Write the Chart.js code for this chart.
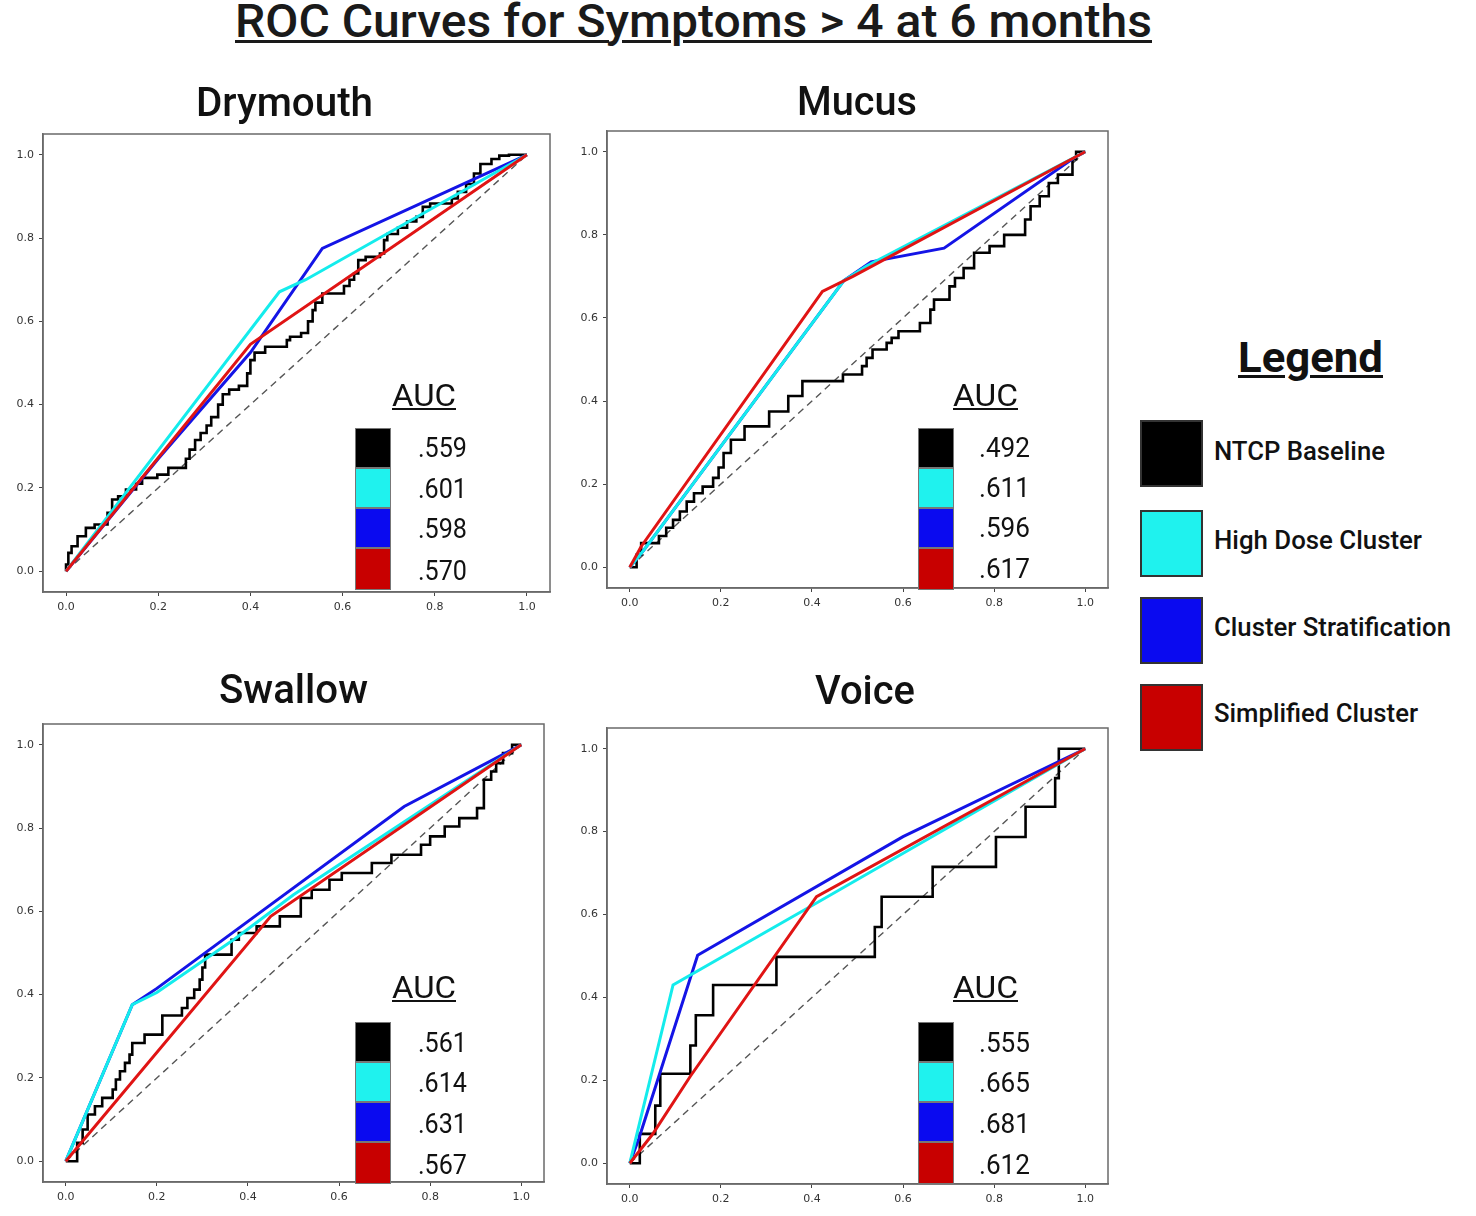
<!DOCTYPE html>
<html><head><meta charset="utf-8">
<script src="https://cdn.jsdelivr.net/npm/chart.js@4.4.1/dist/chart.umd.min.js"></script>
<style>
html,body{margin:0;padding:0;background:#fff;}
body{width:1476px;height:1216px;position:relative;overflow:hidden;font-family:Roboto,"Noto Sans",sans-serif;color:#111;}
.t{position:absolute;white-space:nowrap;display:inline-block;transform-origin:0 50%;line-height:1;}
.u{text-decoration:underline;}
.panel{position:absolute;}
.sw{position:absolute;box-sizing:border-box;}
</style></head><body>
<script>
// ---------------- DATA ----------------
const tickValues = [0, 0.2, 0.4, 0.6, 0.8, 1.0];
const tickLabels = ['0.0', '0.2', '0.4', '0.6', '0.8', '1.0'];
const mainTitle = 'ROC Curves for Symptoms > 4 at 6 months';
const legendTitle = 'Legend';
const aucTitle = 'AUC';
const seriesNames = ['NTCP Baseline', 'High Dose Cluster', 'Cluster Stratification', 'Simplified Cluster'];
const panelTitles = ['Drymouth', 'Mucus', 'Swallow', 'Voice'];
const chanceLine = [[0, 0], [1, 1]];

// Drymouth (NTCP is a staircase: each point = end of a horizontal run)
const drymouthNTCP = [[0,0],[0.005,0.016],[0.012,0.044],[0.025,0.06],[0.043,0.084],[0.062,0.104],[0.09,0.112],[0.1,0.14],[0.113,0.172],[0.13,0.18],[0.152,0.196],[0.165,0.21],[0.198,0.224],[0.222,0.232],[0.26,0.248],[0.268,0.27],[0.28,0.292],[0.292,0.315],[0.305,0.332],[0.315,0.35],[0.33,0.37],[0.34,0.4],[0.354,0.425],[0.375,0.436],[0.393,0.445],[0.4,0.475],[0.409,0.507],[0.432,0.525],[0.479,0.539],[0.486,0.555],[0.51,0.563],[0.525,0.572],[0.535,0.6],[0.541,0.627],[0.556,0.645],[0.603,0.667],[0.615,0.685],[0.625,0.7],[0.634,0.715],[0.65,0.747],[0.681,0.755],[0.69,0.763],[0.697,0.795],[0.72,0.81],[0.74,0.825],[0.76,0.84],[0.774,0.851],[0.79,0.875],[0.837,0.883],[0.85,0.895],[0.868,0.911],[0.885,0.93],[0.899,0.955],[0.923,0.978],[0.94,0.99],[0.961,0.998],[1,1]];
const drymouthHighDose = [[0,0],[0.463,0.671],[0.52,0.70],[1,1]];
const drymouthClusterStrat = [[0,0],[0.2,0.27],[0.4,0.525],[0.556,0.775],[1,1]];
const drymouthSimplified = [[0,0],[0.40,0.545],[1,1]];
const drymouthAUC = ['.559', '.601', '.598', '.570'];

// Mucus
const mucusNTCP = [[0,0],[0.015,0],[0.025,0.03],[0.064,0.058],[0.08,0.075],[0.095,0.095],[0.11,0.114],[0.125,0.134],[0.141,0.158],[0.16,0.178],[0.183,0.194],[0.195,0.215],[0.206,0.24],[0.222,0.275],[0.235,0.307],[0.252,0.307],[0.306,0.339],[0.348,0.375],[0.379,0.412],[0.468,0.448],[0.51,0.464],[0.52,0.484],[0.533,0.504],[0.564,0.524],[0.575,0.54],[0.59,0.552],[0.637,0.568],[0.66,0.588],[0.668,0.62],[0.702,0.644],[0.714,0.676],[0.733,0.696],[0.756,0.72],[0.79,0.757],[0.822,0.773],[0.868,0.8],[0.88,0.837],[0.9,0.869],[0.92,0.893],[0.94,0.925],[0.972,0.945],[0.98,0.982],[1,1]];
const mucusHighDose = [[0,0],[0.03,0.04],[0.47,0.69],[0.52,0.725],[1,1]];
const mucusClusterStrat = [[0,0],[0.03,0.04],[0.47,0.69],[0.53,0.735],[0.69,0.768],[0.975,0.985],[1,1]];
const mucusSimplified = [[0,0],[0.025,0.05],[0.423,0.664],[0.49,0.70],[1,1]];
const mucusAUC = ['.492', '.611', '.596', '.617'];

// Swallow
const swallowNTCP = [[0,0],[0.025,0],[0.037,0.044],[0.048,0.076],[0.064,0.112],[0.08,0.132],[0.103,0.152],[0.11,0.172],[0.119,0.196],[0.13,0.216],[0.14,0.236],[0.146,0.256],[0.173,0.284],[0.212,0.304],[0.255,0.35],[0.267,0.368],[0.282,0.392],[0.294,0.412],[0.3,0.436],[0.306,0.465],[0.364,0.496],[0.38,0.532],[0.419,0.548],[0.47,0.564],[0.516,0.588],[0.54,0.632],[0.579,0.652],[0.606,0.676],[0.672,0.692],[0.715,0.716],[0.78,0.736],[0.8,0.76],[0.832,0.78],[0.864,0.804],[0.903,0.824],[0.918,0.848],[0.934,0.916],[0.945,0.936],[0.96,0.956],[0.98,0.98],[1,1]];
const swallowHighDose = [[0,0],[0.146,0.376],[0.2,0.405],[0.37,0.533],[0.5,0.64],[1,1]];
const swallowClusterStrat = [[0,0],[0.146,0.376],[0.2,0.415],[0.743,0.852],[1,1]];
const swallowSimplified = [[0,0],[0.45,0.588],[1,1]];
const swallowAUC = ['.561', '.614', '.631', '.567'];

// Voice
const voiceNTCP = [[0,0],[0.022,0],[0.056,0.071],[0.067,0.139],[0.133,0.216],[0.145,0.284],[0.183,0.357],[0.322,0.43],[0.538,0.498],[0.553,0.57],[0.665,0.643],[0.804,0.715],[0.869,0.787],[0.934,0.86],[0.942,0.929],[1,1]];
const voiceHighDose = [[0,0],[0.095,0.43],[0.41,0.628],[1,1]];
const voiceClusterStrat = [[0,0],[0.02,0.06],[0.149,0.502],[0.6,0.788],[1,1]];
const voiceSimplified = [[0,0],[0.05,0.07],[0.133,0.21],[0.41,0.643],[1,1]];
const voiceAUC = ['.555', '.665', '.681', '.612'];

// ---------------- STYLE / LAYOUT ----------------
const lineColors = ['#000000', '#14ecec', '#1414e6', '#e01414'];
const swatchColors = ['#000000', '#1ff2ee', '#0a0af0', '#c80000'];
// drawing order: red on top, then cyan, then blue, then black (higher = further back)
const drawOrder = [4, 2, 3, 1];
const PAD_TOP = 16;

const panels = [
  { title: panelTitles[0], series: [drymouthNTCP, drymouthHighDose, drymouthClusterStrat, drymouthSimplified], auc: drymouthAUC,
    box: [43, 134, 550, 592], titleBox: [196, 103, 177], aucX: 355, aucTop: 428, aucHead: [392, 395, 64], valX: [418, 49], valY: [448, 489, 529, 571] },
  { title: panelTitles[1], series: [mucusNTCP, mucusHighDose, mucusClusterStrat, mucusSimplified], auc: mucusAUC,
    box: [607, 131, 1108, 588], titleBox: [797, 102, 120], aucX: 918, aucTop: 428, aucHead: [953, 395, 65], valX: [979, 51], valY: [448, 488, 528, 569] },
  { title: panelTitles[2], series: [swallowNTCP, swallowHighDose, swallowClusterStrat, swallowSimplified], auc: swallowAUC,
    box: [43, 724, 544, 1182], titleBox: [219, 690, 149], aucX: 355, aucTop: 1022, aucHead: [392, 987, 64], valX: [418, 49], valY: [1043, 1083, 1124, 1165] },
  { title: panelTitles[3], series: [voiceNTCP, voiceHighDose, voiceClusterStrat, voiceSimplified], auc: voiceAUC,
    box: [607, 728, 1108, 1184], titleBox: [815, 691, 100], aucX: 918, aucTop: 1022, aucHead: [953, 987, 65], valX: [979, 51], valY: [1043, 1083, 1124, 1165] }
];

const fitList = [];
function addText(txt, left, cy, width, size, weight, underline, extra) {
  const el = document.createElement('div');
  el.className = 't' + (underline ? ' u' : '');
  el.textContent = txt;
  el.style.left = left + 'px';
  el.style.top = (cy - size / 2) + 'px';
  el.style.fontSize = size + 'px';
  el.style.fontWeight = weight;
  if (extra) Object.assign(el.style, extra);
  document.body.appendChild(el);
  fitList.push([el, width]);
  return el;
}
function addBox(l, t, w, h, color, border) {
  const d = document.createElement('div');
  d.className = 'sw';
  Object.assign(d.style, { left: l + 'px', top: t + 'px', width: w + 'px', height: h + 'px', background: color, border: border });
  document.body.appendChild(d);
}

// main title & legend
addText(mainTitle, 235, 20, 917, 47, 500, true, { color: '#1a1a1a', textDecorationThickness: '3px', textUnderlineOffset: '3px' });
addText(legendTitle, 1238, 358, 145, 42, 700, true, { color: '#111', textDecorationThickness: '3px', textUnderlineOffset: '3px' });
const legendTops = [420, 510, 597, 684];
const legendCenters = [451, 540, 627, 713];
const legendWidths = [171, 208, 237, 204];
seriesNames.forEach((n, i) => {
  addBox(1140, legendTops[i], 63, 67, swatchColors[i], '2px solid #333');
  addText(n, 1214, legendCenters[i], legendWidths[i], 25, 500, false, { color: '#111' });
});

const framePlugin = {
  id: 'frame',
  afterDraw(chart) {
    const a = chart.chartArea, ctx = chart.ctx;
    ctx.save();
    ctx.strokeStyle = '#6a6a6a';
    ctx.lineWidth = 1.5;
    ctx.strokeRect(a.left, a.top, a.right - a.left, a.bottom - a.top);
    ctx.restore();
  }
};

function toXY(arr) { return arr.map(p => ({ x: p[0], y: p[1] })); }

panels.forEach(p => {
  const [L, T, R, B] = p.box;
  const w = R - L, h = B - T;
  const div = document.createElement('div');
  div.className = 'panel';
  Object.assign(div.style, { left: (L - 45) + 'px', top: (T - PAD_TOP) + 'px', width: (w + 55) + 'px', height: (h + PAD_TOP + 25) + 'px' });
  const c = document.createElement('canvas');
  div.appendChild(c);
  document.body.appendChild(div);

  const datasets = p.series.map((s, i) => ({
    label: seriesNames[i],
    data: toXY(s),
    borderColor: lineColors[i],
    borderWidth: i === 0 ? 2.6 : 3,
    pointRadius: 0,
    fill: false,
    tension: 0,
    stepped: i === 0 ? 'after' : false,
    order: drawOrder[i]
  }));
  datasets.push({ label: 'chance', data: toXY(chanceLine), borderColor: '#555', borderWidth: 1.4, borderDash: [7, 5], pointRadius: 0, fill: false, order: 5 });

  const axisCommon = {
    type: 'linear', min: -0.05, max: 1.05,
    afterBuildTicks: s => { s.ticks = tickValues.map(v => ({ value: v })); },
    ticks: { callback: (v, i) => tickLabels[i], font: { size: 11, family: 'DejaVu Sans' }, color: '#333', padding: 5, maxRotation: 0, autoSkip: false },
    grid: { drawOnChartArea: false, drawTicks: true, tickLength: 4, color: '#444' },
    border: { display: true, color: '#6a6a6a', width: 1.5 }
  };

  new Chart(c, {
    type: 'line',
    data: { datasets },
    options: {
      responsive: true, maintainAspectRatio: false, animation: false,
      layout: { padding: { top: PAD_TOP, right: 10, left: 0, bottom: 0 } },
      plugins: { legend: { display: false }, tooltip: { enabled: false } },
      scales: {
        x: Object.assign({}, axisCommon, { afterFit: s => { s.height = 25; } }),
        y: Object.assign({}, axisCommon, { afterFit: s => { s.width = 45; } })
      }
    },
    plugins: [framePlugin]
  });

  addText(p.title, p.titleBox[0], p.titleBox[1], p.titleBox[2], 40, 500, false, { color: '#111' });
  addText(aucTitle, p.aucHead[0], p.aucHead[1], p.aucHead[2], 32, 400, true, { color: '#111', textDecorationThickness: '2px', textUnderlineOffset: '2px' });
  const hs = [40, 40, 40, 42];
  let y = p.aucTop;
  p.auc.forEach((v, i) => {
    addBox(p.aucX, y, 36, hs[i], swatchColors[i], '1px solid #777');
    y += hs[i];
    addText(v, p.valX[0], p.valY[i], p.valX[1], 27, 400, false, { color: '#111' });
  });
});

function fitAll() {
  fitList.forEach(([el, w]) => {
    el.style.transform = 'none';
    const cw = el.getBoundingClientRect().width;
    if (cw > 0) el.style.transform = 'scaleX(' + (w / cw) + ')';
  });
}
fitAll();
if (document.fonts && document.fonts.ready) {
  Promise.all([
    document.fonts.load('400 20px Roboto'), document.fonts.load('500 20px Roboto'), document.fonts.load('700 20px Roboto')
  ]).catch(() => {}).then(() => document.fonts.ready).then(fitAll);
}
</script>
</body></html>
